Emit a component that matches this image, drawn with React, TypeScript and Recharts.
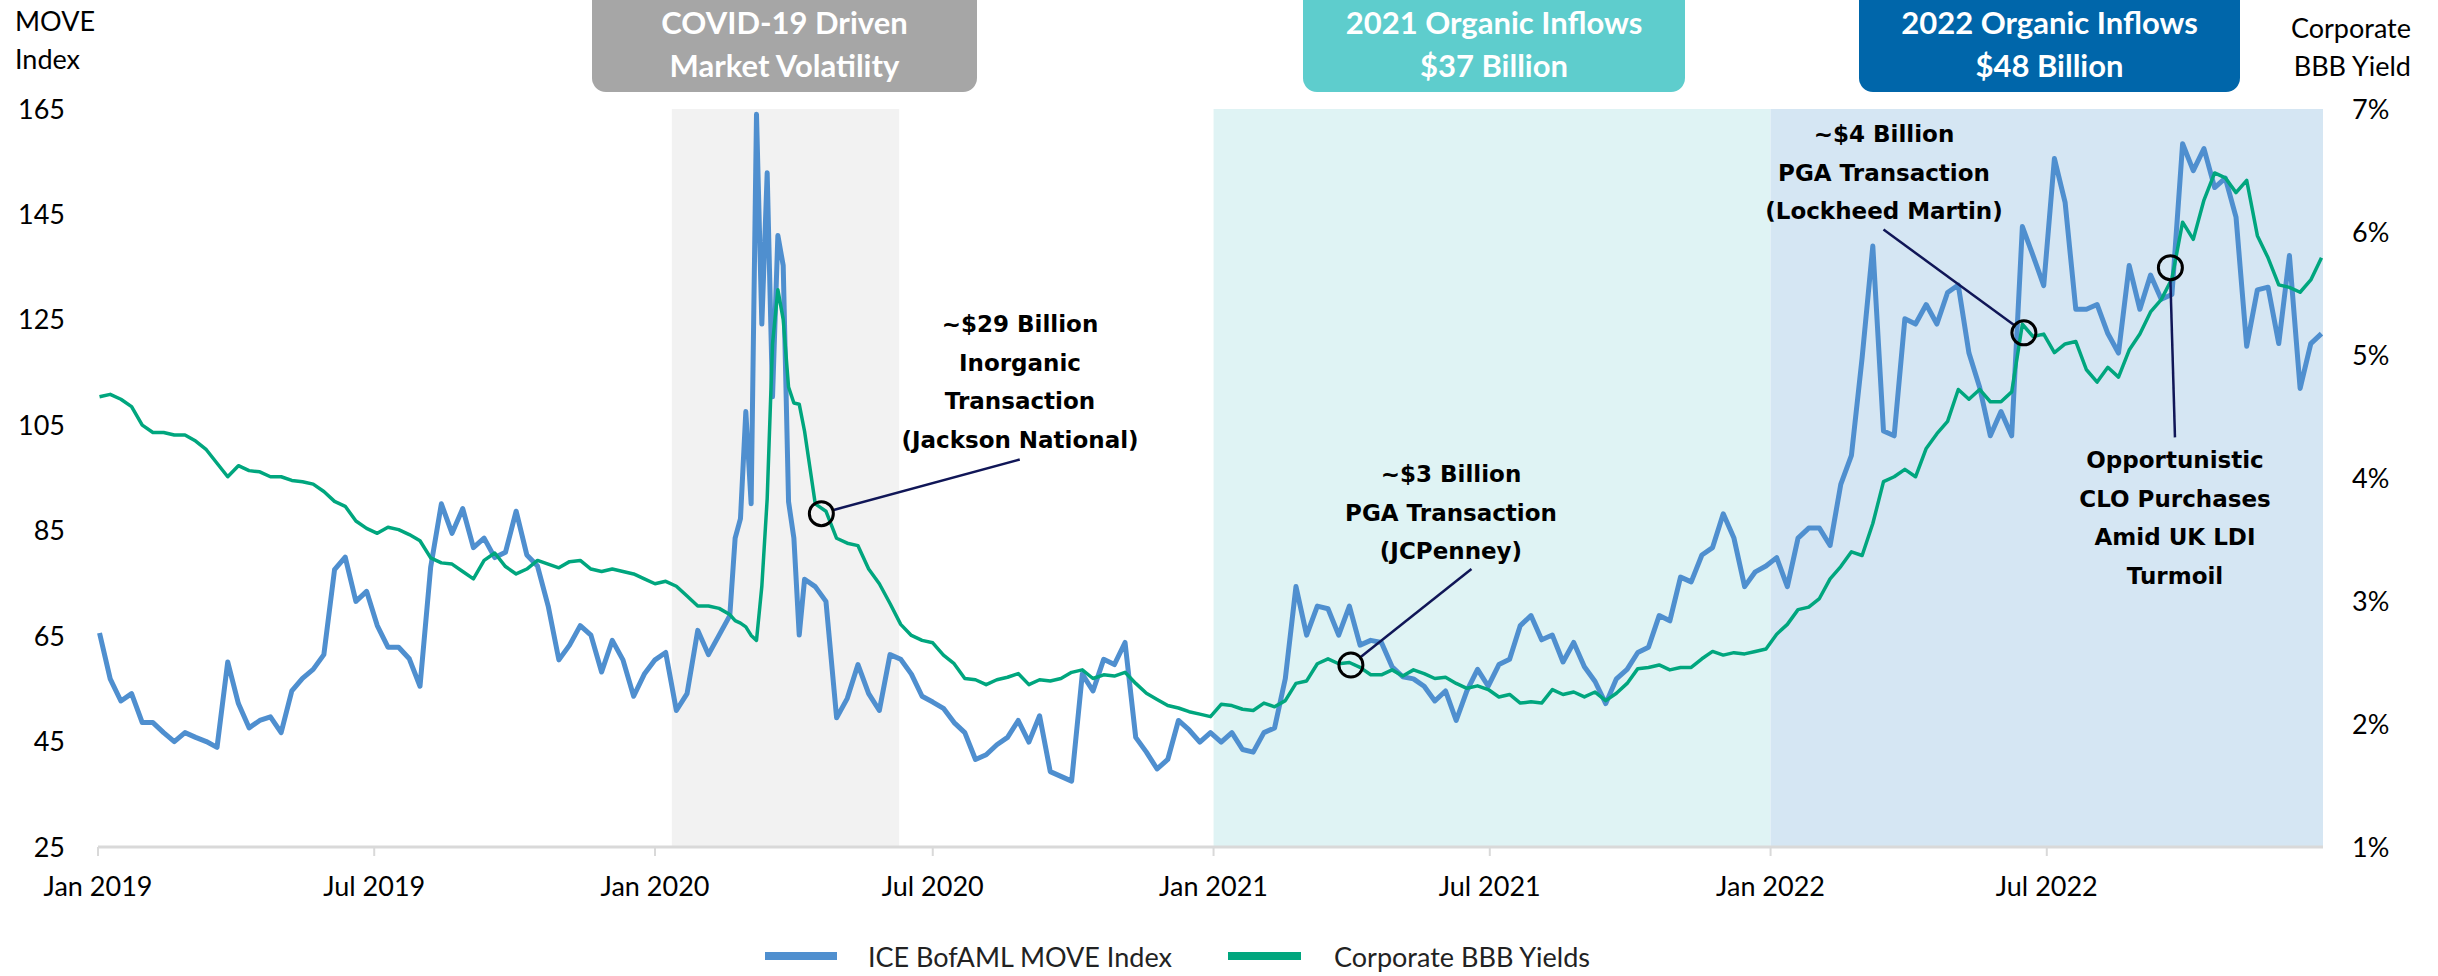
import React from 'react';
import {
    LineChart, Line, XAxis, YAxis, ReferenceArea, ReferenceDot, ReferenceLine
} from 'recharts';

const W = 2438;
const H = 976;

// weekly readings, first one on Jan 2 2019 (day 1 counted from Jan 1 2019)
const firstDay = 1;
const moveIndex = [
    65.6, 56.9, 52.7, 54.1, 48.6, 48.6, 46.7, 45.0, 46.7, 45.8, 45.0, 43.9, 60.1, 52.2, 47.6, 49.0,
    49.7, 46.7, 54.6, 57.0, 58.7, 61.5, 77.6, 80.0, 71.6, 73.5, 67.0, 62.9, 62.9, 60.7, 55.5, 78.1,
    90.1, 84.5, 89.2, 81.8, 83.6, 79.9, 80.9, 88.7, 80.4, 78.3, 70.7, 60.5, 63.3, 67.0, 65.2, 58.2,
    64.2, 60.5, 53.6, 57.8, 60.5, 61.9, 50.9, 54.1, 66.1, 61.5, 65.2, 68.9, 87.3, 90.1, 124.2, 110.4,
    135.3, 83.6, 75.8, 74.4, 71.6, 49.5, 53.2, 59.6, 54.1, 50.9, 61.5, 60.6, 57.8, 53.6, 52.5, 51.3,
    48.6, 46.7, 41.6, 42.5, 44.4, 45.8, 49.0, 44.9, 49.9, 39.3, 38.4, 37.5, 57.8, 54.6, 60.6, 59.6,
    63.8, 45.8, 43.0, 39.8, 41.6, 49.0, 47.2, 44.9, 46.7, 44.9, 46.7, 43.5, 43.0, 46.7, 47.6, 56.9,
    74.4, 65.2, 70.7, 70.2, 65.2, 70.7, 63.3, 64.2, 63.8, 59.2, 57.3, 56.9, 55.5, 52.7, 54.6, 49.0,
    54.6, 58.7, 55.5, 59.6, 60.6, 67.0, 68.9, 64.3, 65.2, 60.1, 63.8, 59.2, 56.4, 52.2, 56.9, 58.7,
    61.9, 62.9, 68.9, 67.9, 76.2, 75.3, 80.4, 81.8, 88.2, 83.6, 74.4, 77.2, 78.3, 79.9, 74.4, 83.6,
    85.5, 85.5, 82.2, 93.8, 99.3, 117.8, 139.0, 103.9, 103.0, 125.2, 124.2, 127.9, 124.2, 130.2, 131.6, 118.7,
    112.2, 103.0, 107.6, 103.0, 142.7, 137.2, 131.5, 155.6, 147.3, 127.0, 127.0, 127.9, 122.4, 118.7, 135.3, 127.0,
    133.5, 128.9, 129.8, 158.4, 153.3, 157.5, 150.1, 151.9, 144.5, 120.0, 130.7, 131.2, 120.5, 137.2, 112.0, 120.5,
    122.4,
];
const bbbYield = [
    4.66, 4.68, 4.64, 4.58, 4.43, 4.37, 4.37, 4.35, 4.35, 4.30, 4.23, 4.12, 4.01, 4.10, 4.06, 4.05,
    4.01, 4.01, 3.98, 3.97, 3.95, 3.89, 3.81, 3.77, 3.65, 3.59, 3.55, 3.60, 3.58, 3.54, 3.49, 3.35,
    3.31, 3.30, 3.24, 3.18, 3.33, 3.39, 3.28, 3.22, 3.26, 3.33, 3.30, 3.27, 3.32, 3.33, 3.26, 3.24,
    3.26, 3.24, 3.22, 3.18, 3.14, 3.16, 3.12, 3.04, 2.96, 2.96, 2.94, 2.89, 2.82, 2.72, 3.12, 5.09,
    5.29, 4.61, 4.38, 3.79, 3.73, 3.51, 3.47, 3.45, 3.26, 3.14, 2.98, 2.81, 2.72, 2.68, 2.66, 2.56,
    2.49, 2.37, 2.36, 2.32, 2.36, 2.38, 2.41, 2.32, 2.36, 2.35, 2.37, 2.42, 2.44, 2.37, 2.40, 2.39,
    2.42, 2.33, 2.25, 2.20, 2.15, 2.13, 2.10, 2.08, 2.06, 2.16, 2.15, 2.12, 2.11, 2.17, 2.14, 2.19,
    2.33, 2.35, 2.49, 2.53, 2.49, 2.50, 2.46, 2.40, 2.40, 2.44, 2.39, 2.44, 2.41, 2.37, 2.38, 2.33,
    2.29, 2.31, 2.28, 2.22, 2.24, 2.17, 2.18, 2.17, 2.28, 2.24, 2.26, 2.22, 2.26, 2.19, 2.25, 2.33,
    2.45, 2.46, 2.48, 2.44, 2.46, 2.46, 2.53, 2.59, 2.56, 2.58, 2.57, 2.59, 2.61, 2.73, 2.81, 2.93,
    2.95, 3.02, 3.18, 3.28, 3.40, 3.37, 3.63, 3.97, 4.01, 4.07, 4.01, 4.24, 4.36, 4.46, 4.72, 4.64,
    4.72, 4.62, 4.62, 4.70, 5.25, 5.15, 5.17, 5.02, 5.09, 5.11, 4.88, 4.78, 4.90, 4.82, 5.04, 5.17,
    5.35, 5.45, 5.62, 6.08, 5.94, 6.26, 6.48, 6.44, 6.32, 6.42, 5.97, 5.79, 5.57, 5.55, 5.51, 5.61,
    5.79,
];

// extra mid-week readings through the March 2020 spike
const spikeDays = [417.5, 424.5, 431.5, 438.5, 445.5, 452.5, 459.5];
const spikeMove = [83.6, 107.6, 164.0, 152.9, 141.0, 90.5, 65.2];
const spikeBbb = [2.84, 2.79, 2.68, 3.83, 5.53, 4.74, 4.60];

// x axis: days since Jan 1 2019
const tickDays = [0, 181, 365, 547, 731, 912, 1096, 1277];
const tickLabels = ['Jan 2019', 'Jul 2019', 'Jan 2020', 'Jul 2020', 'Jan 2021', 'Jul 2021', 'Jan 2022', 'Jul 2022'];
const moveTicks = [25, 45, 65, 85, 105, 125, 145, 165];
const yieldTicks = [1, 2, 3, 4, 5, 6, 7];

// shaded periods (day ranges)
const covidPeriod = [376, 525];
const inflows2021 = [731, 1096];
const inflows2022 = [1096, 1458];

// annotated points on the BBB yield line: [day, yield]
const jacksonPoint = [474, 3.71];
const jcpenneyPoint = [821, 2.48];
const lockheedPoint = [1262, 5.18];
const cloPoint = [1358, 5.71];

const data = [
    ...moveIndex.map((m, i) => ({ day: firstDay + 7 * i, move: m, bbb: bbbYield[i] })),
    ...spikeDays.map((d, i) => ({ day: d, move: spikeMove[i], bbb: spikeBbb[i] })),
].sort((a, b) => a.day - b.day);

const BLUE = '#4f8fcf';
const GREEN = '#00a67e';
const NAVY = '#101657';

const Note = ({ x, y, lines }: { x: number; y: number; lines: string[] }) => (
    <text x={x} y={y} textAnchor="middle" fontFamily="'DejaVu Sans', Verdana, sans-serif"
        fontWeight={700} fontSize={23} fill="#000">
        {lines.map((l, i) => (
            <tspan key={i} x={x} dy={i === 0 ? 0 : 38.5} dominantBaseline="central">{l}</tspan>
        ))}
    </text>
);

const Header = ({ x, w, fill, lines }: { x: number; w: number; fill: string; lines: string[] }) => (
    <g>
        <rect x={x} y={-20} width={w} height={112} rx={14} fill={fill} />
        {lines.map((l, i) => (
            <text key={i} x={x + w / 2} y={22 + i * 43} textAnchor="middle" dominantBaseline="central"
                fontFamily="Lato" fontWeight={700} fontSize={31} fill="#fff">{l}</text>
        ))}
    </g>
);

const tickStyle = { fontSize: 27, fill: '#000', fontFamily: 'Lato' };

export default function App() {
    return (
        <div style={{ position: 'absolute', left: 0, top: 0, width: W, height: H, background: '#fff' }}>
            <LineChart width={W} height={H} data={data} margin={{ top: 109, right: 0, bottom: 69, left: 0 }}>
                <ReferenceArea yAxisId="left" x1={covidPeriod[0]} x2={covidPeriod[1]} y1={25} y2={165}
                    fill="#f2f2f2" fillOpacity={1} stroke="none" />
                <ReferenceArea yAxisId="left" x1={inflows2021[0]} x2={inflows2021[1]} y1={25} y2={165}
                    fill="#dff3f4" fillOpacity={1} stroke="none" />
                <ReferenceArea yAxisId="left" x1={inflows2022[0]} x2={inflows2022[1]} y1={25} y2={165}
                    fill="#d5e6f3" fillOpacity={1} stroke="none" />
                <XAxis
                    dataKey="day"
                    type="number"
                    domain={[0, 1458]}
                    ticks={tickDays}
                    interval={0}
                    tickFormatter={(d) => tickLabels[tickDays.indexOf(d)]}
                    axisLine={{ stroke: '#d9d9d9', strokeWidth: 3 }}
                    tickLine={{ stroke: '#d9d9d9', strokeWidth: 2 }}
                    tickSize={9}
                    tickMargin={21}
                    tick={tickStyle}
                    height={60}
                />
                <YAxis
                    yAxisId="left"
                    domain={[25, 165]}
                    ticks={moveTicks}
                    interval={0}
                    width={98}
                    axisLine={false}
                    tickLine={false}
                    tickSize={0}
                    tickMargin={33}
                    tick={tickStyle}
                />
                <YAxis
                    yAxisId="right"
                    orientation="right"
                    domain={[1, 7]}
                    ticks={yieldTicks}
                    interval={0}
                    width={115}
                    axisLine={false}
                    tickLine={false}
                    tickSize={0}
                    tickMargin={29}
                    tick={{ ...tickStyle, textAnchor: 'start' }}
                    tickFormatter={(v) => `${v}%`}
                />
                <Line yAxisId="left" type="linear" dataKey="move" stroke={BLUE} strokeWidth={5}
                    strokeLinejoin="round" dot={false} isAnimationActive={false} />
                <Line yAxisId="right" type="linear" dataKey="bbb" stroke={GREEN} strokeWidth={3.5}
                    strokeLinejoin="round" dot={false} isAnimationActive={false} />

                <ReferenceLine yAxisId="right" ifOverflow="visible" stroke={NAVY} strokeWidth={2.5}
                    segment={[{ x: 482, y: 3.74 }, { x: 604, y: 4.15 }]} />
                <ReferenceLine yAxisId="right" ifOverflow="visible" stroke={NAVY} strokeWidth={2.5}
                    segment={[{ x: 827, y: 2.54 }, { x: 900, y: 3.26 }]} />
                <ReferenceLine yAxisId="right" ifOverflow="visible" stroke={NAVY} strokeWidth={2.5}
                    segment={[{ x: 1170, y: 6.02 }, { x: 1256, y: 5.24 }]} />
                <ReferenceLine yAxisId="right" ifOverflow="visible" stroke={NAVY} strokeWidth={2.5}
                    segment={[{ x: 1358, y: 5.61 }, { x: 1361, y: 4.33 }]} />

                {[jacksonPoint, jcpenneyPoint, lockheedPoint, cloPoint].map((p, i) => (
                    <ReferenceDot key={i} yAxisId="right" x={p[0]} y={p[1]} r={12} fill="none"
                        stroke="#000" strokeWidth={3} ifOverflow="visible" />
                ))}
            </LineChart>

            <svg width={W} height={H} style={{ position: 'absolute', left: 0, top: 0, pointerEvents: 'none' }}>
                <Header x={592} w={385} fill="#a6a6a6" lines={['COVID-19 Driven', 'Market Volatility']} />
                <Header x={1303} w={382} fill="#5ecdcd" lines={['2021 Organic Inflows', '$37 Billion']} />
                <Header x={1859} w={381} fill="#0066aa" lines={['2022 Organic Inflows', '$48 Billion']} />

                <g fontFamily="Lato" fontSize={27} fill="#000">
                    <text x={15} y={20} dominantBaseline="central">MOVE</text>
                    <text x={15} y={58} dominantBaseline="central">Index</text>
                    <text x={2411} y={27} textAnchor="end" dominantBaseline="central">Corporate</text>
                    <text x={2411} y={65} textAnchor="end" dominantBaseline="central">BBB Yield</text>
                </g>

                <Note x={1020} y={324} lines={['~$29 Billion', 'Inorganic', 'Transaction', '(Jackson National)']} />
                <Note x={1451} y={474} lines={['~$3 Billion', 'PGA Transaction', '(JCPenney)']} />
                <Note x={1884} y={134} lines={['~$4 Billion', 'PGA Transaction', '(Lockheed Martin)']} />
                <Note x={2175} y={460} lines={['Opportunistic', 'CLO Purchases', 'Amid UK LDI', 'Turmoil']} />

                <g fontFamily="Lato" fontSize={27} fill="#222">
                    <rect x={765} y={952} width={72} height={8} fill={BLUE} />
                    <text x={868} y={956} dominantBaseline="central">ICE BofAML MOVE Index</text>
                    <rect x={1228} y={952} width={73} height={8} fill={GREEN} />
                    <text x={1334} y={956} dominantBaseline="central">Corporate BBB Yields</text>
                </g>
            </svg>
        </div>
    );
}
